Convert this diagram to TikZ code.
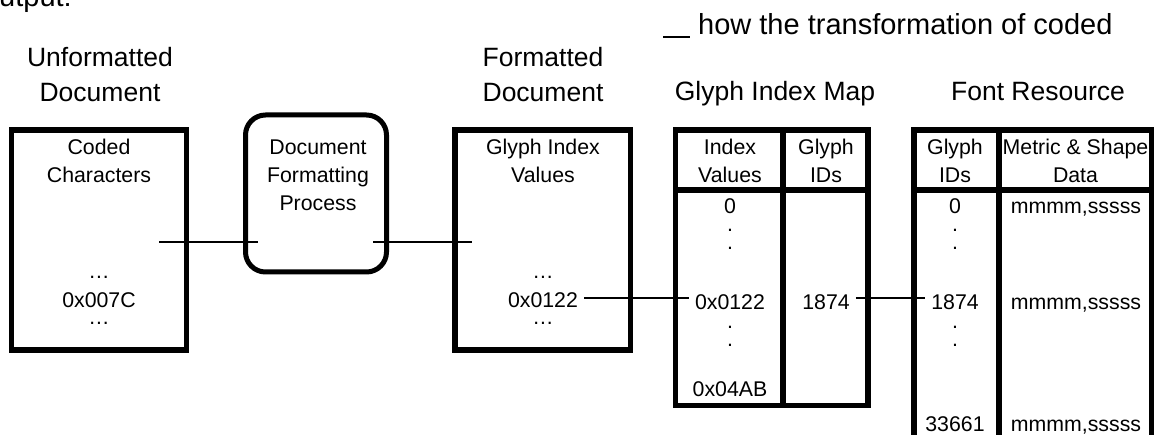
\documentclass[tikz,border=0pt]{standalone}
\usepackage{fontspec}
\setmainfont{Liberation Sans}
\begin{document}
\begin{tikzpicture}[x=1pt,y=-1pt,
  box/.style={draw, line width=5.5pt, inner sep=0pt, outer sep=0pt},
  procbox/.style={draw, line width=5pt, rounded corners=20pt, inner sep=0pt, outer sep=0pt},
  divider/.style={line width=5.5pt},
  hd/.style={font=\fontsize{26.5}{35}\selectfont, inner sep=0pt, anchor=base},
  top/.style={font=\fontsize{29}{35}\selectfont, inner sep=0pt, anchor=base west},
  tx/.style={font=\fontsize{21.3}{28}\selectfont, inner sep=0pt, anchor=base},
  conn/.style={line width=2pt}]
\useasboundingbox (0,0) rectangle (1161,435);

% partial running text at the top
\node[top] (t1) at (-1,6.5) {utput:};
\coordinate (dashA) at (663,37);
\coordinate (dashB) at (690,37);
\draw[line width=1.4pt] (dashA) -- (dashB);
\node[top] (t2) at (698,35) {how the transformation of coded};

% headers
\node[hd] (h1a) at (100,67) {Unformatted};
\node[hd] (h1b) at (100,102) {Document};
\node[hd] (h3a) at (543,67) {Formatted};
\node[hd] (h3b) at (543,102) {Document};
\node[hd] (h4) at (775,101) {Glyph Index Map};
\node[hd] (h5) at (1038,101) {Font Resource};

% boxes
\node[box, minimum width=175pt, minimum height=220pt] (cc) at (99,240) {};
\node[procbox, minimum width=141pt, minimum height=157pt] (fp) at (316,193.5) {};
\node[box, minimum width=175.5pt, minimum height=220pt] (gv) at (542.75,240) {};
\node[box, minimum width=192.5pt, minimum height=275.5pt] (gm) at (771.75,267.75) {};
\node[box, minimum width=237.5pt, minimum height=330pt] (fr) at (1032.75,295) {};

% dividers
\draw[divider] (gm.west |- 0,190) -- (gm.east |- 0,190);
\draw[divider] (gm.north -| 783,0) -- (gm.south -| 783,0);
\draw[divider] (fr.west |- 0,190) -- (fr.east |- 0,190);
\draw[divider] (fr.north -| 999,0) -- (fr.south -| 999,0);

% box 1
\node[tx] (c1) at (99,155) {Coded};
\node[tx] (c2) at (99,183) {Characters};
\node[tx] (c3) at (99,279) {\dots};
\node[tx] (c4) at (99,308) {0x007C};
\node[tx] (c5) at (99,325) {\dots};

% process
\node[tx] (p1) at (318,155) {Document};
\node[tx] (p2) at (318,183) {Formatting};
\node[tx] (p3) at (318,211) {Process};

% box 3
\node[tx] (g1) at (543,155) {Glyph Index};
\node[tx] (g2) at (543,183) {Values};
\node[tx] (g3) at (543,279) {\dots};
\node[tx] (g4) at (543,308) {0x0122};
\node[tx] (g5) at (543,325) {\dots};

% glyph index map
\node[tx] (m1) at (730,155) {Index};
\node[tx] (m2) at (730,183) {Values};
\node[tx] (m3) at (826,155) {Glyph};
\node[tx] (m4) at (826,183) {IDs};
\node[tx] (m5) at (730,214) {0};
\node[tx] (m6) at (730,232) {.};
\node[tx] (m7) at (730,250) {.};
\node[tx] (m8) at (730,310) {0x0122};
\node[tx] (m9) at (730,329) {.};
\node[tx] (m10) at (730,346) {.};
\node[tx] (m11) at (730,396) {0x04AB};
\node[tx] (m12) at (826,310) {1874};

% font resource
\node[tx] (f1) at (955,155) {Glyph};
\node[tx] (f2) at (955,183) {IDs};
\node[tx] (f3) at (1075.5,155) {Metric \& Shape};
\node[tx] (f4) at (1075.5,183) {Data};
\node[tx] (f5) at (955,214) {0};
\node[tx] (f6) at (955,232) {.};
\node[tx] (f7) at (955,250) {.};
\node[tx] (f8) at (955,310) {1874};
\node[tx] (f9) at (955,329) {.};
\node[tx] (f10) at (955,346) {.};
\node[tx] (f11) at (955,431) {33661};
\node[tx] (f12) at (1076,214) {mmmm,sssss};
\node[tx] (f13) at (1076,310) {mmmm,sssss};
\node[tx] (f14) at (1076,431) {mmmm,sssss};

% connectors
\coordinate (a1) at (159,242);
\coordinate (a2) at (258,242);
\coordinate (b1) at (373,242);
\coordinate (b2) at (472,242);
\draw[conn] (a1) -- (a2);
\draw[conn] (b1) -- (b2);
\draw[conn] ([xshift=6pt]g4.east |- 0,298) -- ([xshift=-6pt]m8.west |- 0,298);
\draw[conn] ([xshift=6pt]m12.east |- 0,298) -- ([xshift=-6pt]f8.west |- 0,298);
\end{tikzpicture}
\end{document}
